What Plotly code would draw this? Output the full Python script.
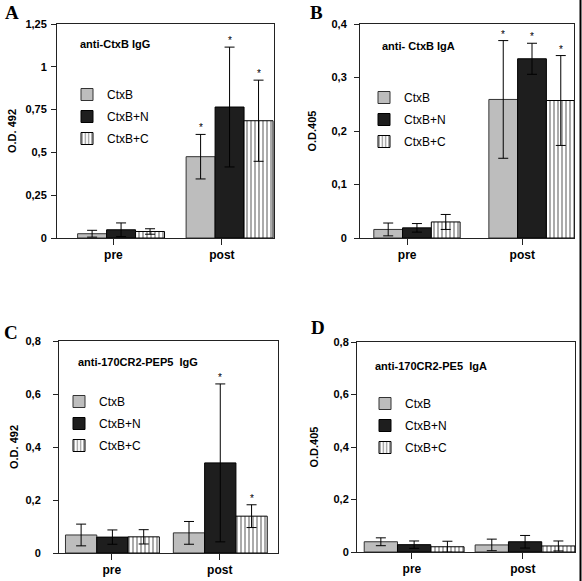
import plotly.graph_objects as go

# ---------------- data ----------------
categories = ["pre", "post"]
series_names = ["CtxB", "CtxB+N", "CtxB+C"]

# Panel A: anti-CtxB IgG (O.D. 492)
a_ctxb = [0.025, 0.475]
a_ctxb_err = [0.020, 0.130]
a_ctxbn = [0.048, 0.765]
a_ctxbn_err = [0.040, 0.350]
a_ctxbc = [0.038, 0.685]
a_ctxbc_err = [0.016, 0.237]
a_stars = [[False, True], [False, True], [False, True]]

# Panel B: anti- CtxB IgA (O.D.405)
b_ctxb = [0.016, 0.259]
b_ctxb_err = [0.012, 0.110]
b_ctxbn = [0.019, 0.335]
b_ctxbn_err = [0.008, 0.029]
b_ctxbc = [0.030, 0.257]
b_ctxbc_err = [0.014, 0.084]
b_stars = [[False, True], [False, True], [False, True]]

# Panel C: anti-170CR2-PEP5 IgG (O.D. 492)
c_ctxb = [0.068, 0.076]
c_ctxb_err = [0.041, 0.043]
c_ctxbn = [0.060, 0.340]
c_ctxbn_err = [0.027, 0.298]
c_ctxbc = [0.061, 0.139]
c_ctxbc_err = [0.027, 0.043]
c_stars = [[False, False], [False, True], [False, True]]

# Panel D: anti-170CR2-PE5 IgA (O.D.405)
d_ctxb = [0.039, 0.027]
d_ctxb_err = [0.015, 0.022]
d_ctxbn = [0.028, 0.039]
d_ctxbn_err = [0.014, 0.024]
d_ctxbc = [0.020, 0.023]
d_ctxbc_err = [0.021, 0.019]
d_stars = [[False, False], [False, False], [False, False]]

# ---------------- layout geometry (pixels) ----------------
W, H = 582, 581
FONT = "Liberation Sans, Arial, Helvetica, sans-serif"


def fx(x):
    return x / W


def fy(y):
    return 1 - y / H


panels = [
    dict(letter="A", title="anti-CtxB IgG", ytitle="O.D. 492",
         vals=[a_ctxb, a_ctxbn, a_ctxbc], errs=[a_ctxb_err, a_ctxbn_err, a_ctxbc_err], stars=a_stars,
         box=(57, 274, 24, 238), xr=[-0.52, 1.48], start=-0.33, bw=0.267, ymax=1.25, dtick=0.25,
         title_xy=(78, 44), legend_xy=(67, 80), letter_xy=(12, 13), tls=2, standoff=6),
    dict(letter="B", title="anti- CtxB IgA", ytitle="O.D.405",
         vals=[b_ctxb, b_ctxbn, b_ctxbc], errs=[b_ctxb_err, b_ctxbn_err, b_ctxbc_err], stars=b_stars,
         box=(360, 574, 24, 238), xr=[-0.41, 1.45], start=-0.29, bw=0.25, ymax=0.4, dtick=0.1,
         title_xy=(380, 46), legend_xy=(364, 83), letter_xy=(316, 13), tls=5, standoff=12),
    dict(letter="C", title="anti-170CR2-PEP5  IgG", ytitle="O.D. 492",
         vals=[c_ctxb, c_ctxbn, c_ctxbc], errs=[c_ctxb_err, c_ctxbn_err, c_ctxbc_err], stars=c_stars,
         box=(59, 278, 341, 553), xr=[-0.49, 1.54], start=-0.43, bw=0.29, ymax=0.8, dtick=0.2,
         title_xy=(76, 362), legend_xy=(59, 387), letter_xy=(11, 332), tls=10, standoff=4),
    dict(letter="D", title="anti-170CR2-PE5  IgA", ytitle="O.D.405",
         vals=[d_ctxb, d_ctxbn, d_ctxbc], errs=[d_ctxb_err, d_ctxbn_err, d_ctxbc_err], stars=d_stars,
         box=(357, 575, 342, 552), xr=[-0.495, 1.47], start=-0.43, bw=0.30, ymax=0.8, dtick=0.2,
         title_xy=(373, 366), legend_xy=(365, 389), letter_xy=(318, 327), tls=0, standoff=12),
]

bar_markers = [
    dict(color="#bdbdbd", line=dict(color="#333333", width=1)),
    dict(color="#1e1e1e", line=dict(color="#000000", width=1)),
    dict(color="white", line=dict(color="#000000", width=1),
         pattern=dict(shape="|", fgcolor="#000000", bgcolor="white", size=4, solidity=0.33)),
]

fig = go.Figure()
annotations = []
layout = dict(
    width=W, height=H,
    margin=dict(l=0, r=0, t=0, b=0, autoexpand=False),
    paper_bgcolor="white", plot_bgcolor="white",
    barmode="overlay",
    separators=",.",
    font=dict(family=FONT, color="black", size=11),
    showlegend=True,
)

x_idx = list(range(len(categories)))

for k, p in enumerate(panels):
    sfx = "" if k == 0 else str(k + 1)
    xa, ya = "x" + sfx, "y" + sfx
    leg = "legend" + sfx
    x0, x1, y0, y1 = p["box"]
    for i, name in enumerate(series_names):
        fig.add_trace(go.Bar(
            x=x_idx, y=p["vals"][i], name=name,
            width=p["bw"], offset=p["start"] + i * p["bw"],
            marker=bar_markers[i],
            error_y=dict(type="data", array=p["errs"][i], visible=True,
                         color="black", thickness=1, width=5),
            xaxis=xa, yaxis=ya, legend=leg, legendgroup=f"{p['letter']}{i}",
            hoverinfo="skip",
        ))
        for j, cat in enumerate(categories):
            if p["stars"][i][j]:
                annotations.append(dict(
                    x=j + p["start"] + (i + 0.5) * p["bw"],
                    y=p["vals"][i][j] + p["errs"][i][j],
                    xref=xa, yref=ya, text="*", showarrow=False,
                    yanchor="bottom", yshift=-1,
                    font=dict(family=FONT, size=10, color="black")))
    layout["xaxis" + sfx] = dict(
        domain=[fx(x0), fx(x1)], anchor=ya, range=p["xr"],
        tickvals=x_idx, ticktext=categories,
        showline=True, linecolor="#222222", linewidth=1, mirror=True,
        ticks="outside", ticklen=6, tickcolor="#222222",
        showgrid=False, zeroline=False, fixedrange=True, automargin=False,
        tickfont=dict(family=FONT, size=12, color="black", weight="bold"),
    )
    layout["yaxis" + sfx] = dict(
        domain=[fy(y1), fy(y0)], anchor=xa, range=[0, p["ymax"]], dtick=p["dtick"],
        tick0=0, showline=True, linecolor="#222222", linewidth=1, mirror=True,
        ticks="outside", ticklen=5, tickcolor="#222222", ticklabelstandoff=p["tls"],
        showgrid=False, zeroline=False, fixedrange=True, automargin=False,
        tickfont=dict(family=FONT, size=11, color="black", weight="bold"),
        title=dict(text=p["ytitle"], standoff=p["standoff"],
                   font=dict(family=FONT, size=11, color="black", weight="bold")),
    )
    layout[leg] = dict(
        x=fx(p["legend_xy"][0]), y=fy(p["legend_xy"][1]),
        xanchor="left", yanchor="top", bgcolor="rgba(0,0,0,0)",
        font=dict(family=FONT, size=12, color="black"),
        tracegroupgap=3, itemclick=False, itemdoubleclick=False,
    )
    annotations.append(dict(
        x=fx(p["title_xy"][0]), y=fy(p["title_xy"][1]), xref="paper", yref="paper",
        text=p["title"], showarrow=False, xanchor="left", yanchor="middle",
        font=dict(family=FONT, size=11, color="black", weight="bold")))
    annotations.append(dict(
        x=fx(p["letter_xy"][0]), y=fy(p["letter_xy"][1]), xref="paper", yref="paper",
        text=p["letter"], showarrow=False, xanchor="center", yanchor="middle",
        font=dict(family="Liberation Serif, Times New Roman, serif", size=19,
                  color="black", weight="bold")))

layout["annotations"] = annotations
layout["shapes"] = [dict(type="line", xref="paper", yref="paper",
                         x0=fx(580.5), x1=fx(580.5), y0=0, y1=1,
                         line=dict(color="black", width=2))]
fig.update_layout(**layout)
fig.write_html("out.html", config={"displayModeBar": False, "staticPlot": True},
               post_script="document.body.style.margin='0px';document.body.style.overflow='hidden';")
